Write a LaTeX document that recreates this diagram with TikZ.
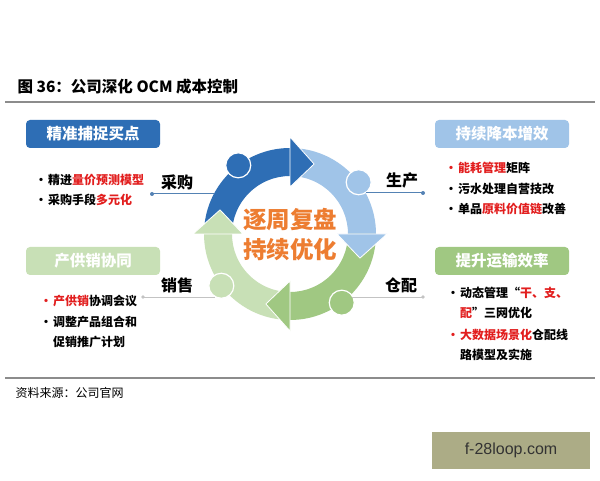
\documentclass[tikz,border=0pt]{standalone}
\usepackage{fontspec}
\setmainfont{Noto Sans CJK SC}
\newfontfamily\wmfont{Liberation Sans}
\usepackage{xcolor}
\definecolor{deepblue}{RGB}{46,110,181}
\definecolor{paleblue}{RGB}{160,196,232}
\definecolor{midgreen}{RGB}{160,200,130}
\definecolor{palegreen}{RGB}{200,224,182}
\definecolor{ringorange}{RGB}{237,125,49}
\definecolor{hotred}{RGB}{226,30,30}
\definecolor{rulegray}{RGB}{140,140,140}
\definecolor{linkblue}{RGB}{84,130,180}
\definecolor{linkgray}{RGB}{195,195,195}
\definecolor{wmkhaki}{RGB}{172,172,134}
\usetikzlibrary{positioning,calc}
\tikzset{
  titlebox/.style={fill=#1, rounded corners=4pt, text=white, font=\bfseries\fontsize{15.5}{15.5}\selectfont, minimum width=134pt, minimum height=28pt, inner sep=0pt},
  pointtext/.style={anchor=west, font=\bfseries\fontsize{12}{12}\selectfont, inner sep=0pt},
  stagetext/.style={font=\bfseries\fontsize{16}{16}\selectfont, inner sep=0pt},
  knob/.style={circle, fill=#1, draw=white, line width=1.2pt, minimum size=25pt, inner sep=0pt},
}
\newcommand{\redpart}[1]{\textcolor{hotred}{#1}}
\newcommand{\dotmark}{\makebox[13pt][l]{•}}
\newcommand{\ringpart}[3]{\fill[#1] (#2:86) arc[start angle=#2, end angle=#3, radius=86] -- (#3:58) arc[start angle=#3, end angle=#2, radius=58] -- cycle;}
\newcommand{\ringhead}[2]{\fill[#1, draw=white, line width=0.8pt] (#2:47) -- (#2:97) -- ({#2-19}:74) -- cycle;}

\begin{document}
\begin{tikzpicture}[x=1pt, y=1pt, font=\fontsize{12}{12}\selectfont]
\useasboundingbox (0,0) rectangle (600,480);
\fill[white] (0,0) rectangle (600,480);
\node[anchor=west, font=\bfseries\fontsize{15.5}{15.5}\selectfont] (figtitle) at (14,393) {图 36：公司深化 OCM 成本控制};
\draw[rulegray, line width=1.6pt] (5,378) -- (595,378);
\draw[rulegray, line width=1.6pt] (5,102) -- (595,102);
\node[anchor=west] (source) at (12,87) {资料来源：公司官网};
\node[fill=wmkhaki, minimum width=158pt, minimum height=37pt, font=\wmfont\fontsize{16}{16}\selectfont, text=black!80] (mark) at (511,30) {f-28loop.com};

\begin{scope}[shift={(290,246)}]
\ringpart{deepblue}{180}{90}
\ringpart{paleblue}{90}{0}
\ringpart{midgreen}{0}{-90}
\ringpart{palegreen}{-90}{-180}
\ringhead{deepblue}{90}
\ringhead{paleblue}{0}
\ringhead{midgreen}{-90}
\ringhead{palegreen}{-180}
\node[knob=deepblue] (buyknob) at (127:86) {};
\node[knob=paleblue] (makeknob) at (37:86) {};
\node[knob=midgreen] (shipknob) at (-53:86) {};
\node[knob=palegreen] (sellknob) at (-143:86) {};
\node[text=ringorange, align=center, font=\bfseries\fontsize{23.5}{30}\selectfont] (core) at (0,-1) {逐周复盘\\持续优化};
\end{scope}

\coordinate (buydot) at (152,286);
\coordinate (buyring) at (214,286);
\coordinate (makedot) at (423,287);
\coordinate (makering) at (366,287);
\coordinate (selldot) at (143,183);
\coordinate (sellring) at (215,183);
\coordinate (shipdot) at (423,183);
\coordinate (shipring) at (352,183);
\draw[linkblue, line width=1pt] (buydot) -- (buyring);
\draw[linkblue, line width=1pt] (makering) -- (makedot);
\draw[linkgray, line width=1pt] (selldot) -- (sellring);
\draw[linkgray, line width=1pt] (shipring) -- (shipdot);
\fill[linkblue] (buydot) circle (2);
\fill[linkblue] (makedot) circle (2);
\fill[linkgray] (selldot) circle (1.8);
\fill[linkgray] (shipdot) circle (1.8);

\node[stagetext] (buy) at (177,298) {采购};
\node[stagetext] (make) at (402,300) {生产};
\node[stagetext] (sell) at (177,195) {销售};
\node[stagetext] (ship) at (401,195) {仓配};

\node[titlebox=deepblue] (buybox) at (93,346) {精准捕捉买点};
\node[titlebox=paleblue] (makebox) at (502,346) {持续降本增效};
\node[titlebox=palegreen] (sellbox) at (93,219) {产供销协同};
\node[titlebox=midgreen] (shipbox) at (502,219) {提升运输效率};

\node[pointtext] (buyA) at (35,300) {\dotmark 精进\redpart{量价预测模型}};
\node[pointtext] (buyB) at (35,280) {\dotmark 采购手段\redpart{多元化}};
\node[pointtext] (makeA) at (445,312) {\redpart{\dotmark 能耗管理}矩阵};
\node[pointtext] (makeB) at (445,291) {\dotmark 污水处理自营技改};
\node[pointtext] (makeC) at (445,271) {\dotmark 单品\redpart{原料价值链}改善};
\node[pointtext] (sellA) at (40,179) {\redpart{\dotmark 产供销}协调会议};
\node[pointtext] (sellB) at (40,158) {\dotmark 调整产品组合和};
\node[pointtext] (sellC) at (53,138) {促销推广计划};
\node[pointtext] (shipA) at (447,187) {\dotmark 动态管理“\redpart{干、支、}};
\node[pointtext] (shipB) at (460,167) {\redpart{配}”三网优化};
\node[pointtext] (shipC) at (447,145) {\redpart{\dotmark 大数据场景化}仓配线};
\node[pointtext] (shipD) at (460,125) {路模型及实施};
\end{tikzpicture}
\end{document}
